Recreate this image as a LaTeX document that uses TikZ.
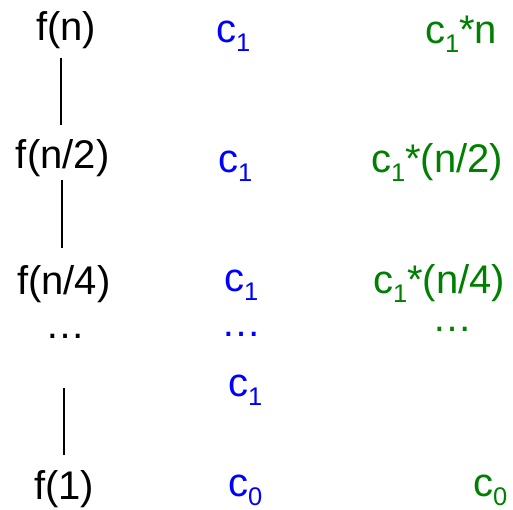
\documentclass[tikz,border=0pt]{standalone}
\usepackage{fontspec}
\setmainfont{Liberation Sans}
\definecolor{cblue}{RGB}{0,0,255}
\definecolor{cgreen}{RGB}{0,128,0}
\newcommand{\csub}[1]{c\raisebox{-9pt}{\fontsize{25.5}{25.5}\selectfont #1}}
\tikzset{
  lbl/.style={anchor=base west, inner sep=0pt, outer sep=0pt, font=\fontsize{40}{40}\selectfont},
  blk/.style={lbl, text=black},
  blu/.style={lbl, text=cblue},
  grn/.style={lbl, text=cgreen},
  link/.style={draw=black, line width=1.3pt}
}
\begin{document}
\begin{tikzpicture}[x=1pt,y=-1pt]
\useasboundingbox (0,0) rectangle (513,510);
% black column
\node[blk] (fn)  at (36,41)  {f(n)};
\node[blk] (fn2) at (16,169) {f(n/2)};
\node[blk] (fn4) at (17,294) {f(n/4)};
\node[blk] (kd)  at (45,338) {…};
\node[blk] (f1)  at (34,499) {f(1)};
% blue column
\node[blu] (b1) at (216,43)  {\csub{1}};
\node[blu] (b2) at (218,173) {\csub{1}};
\node[blu] (b3) at (224,291) {\csub{1}};
\node[blu] (bd) at (221,336) {…};
\node[blu] (b4) at (228,396) {\csub{1}};
\node[blu] (b0) at (228,496) {\csub{0}};
% green column
\node[grn] (g1) at (425,44)  {\csub{1}*n};
\node[grn] (g2) at (371,173) {\csub{1}*(n/2)};
\node[grn] (g3) at (373,293) {\csub{1}*(n/4)};
\node[grn] (gd) at (432,331) {…};
\node[grn] (g0) at (473,496) {\csub{0}};
% connector end points
\coordinate (l1a) at (61,58);  \coordinate (l1b) at (61,125);
\coordinate (l2a) at (62,180); \coordinate (l2b) at (62,248);
\coordinate (l3a) at (64,388); \coordinate (l3b) at (64,455);
\draw[link] (l1a) -- (l1b);
\draw[link] (l2a) -- (l2b);
\draw[link] (l3a) -- (l3b);
\end{tikzpicture}
\end{document}
